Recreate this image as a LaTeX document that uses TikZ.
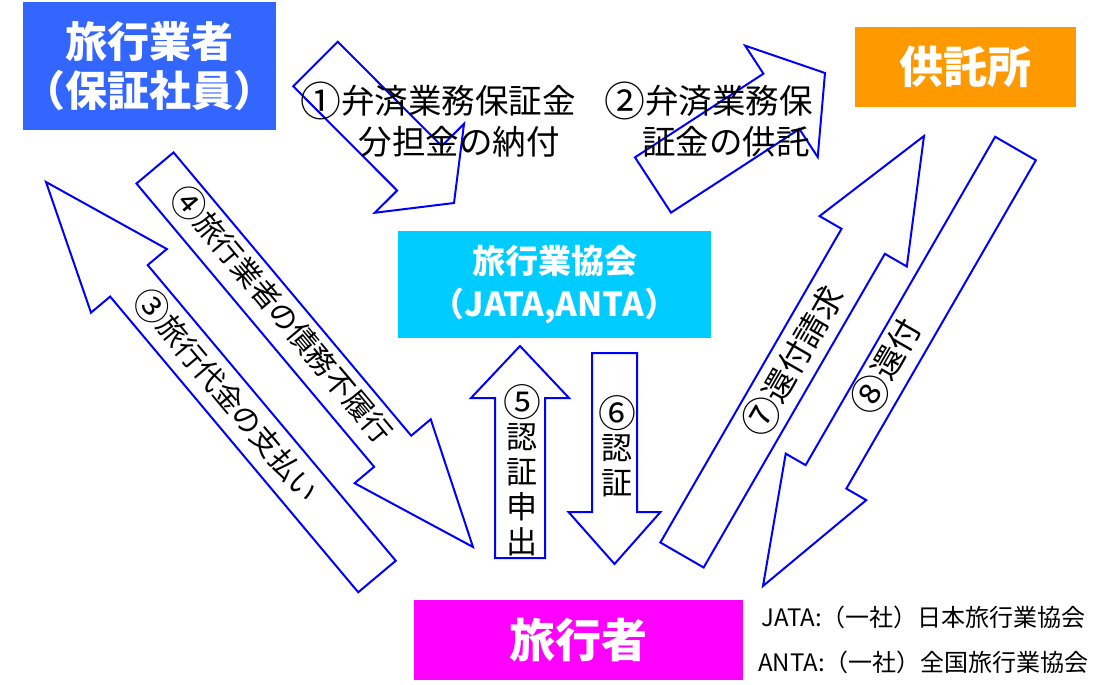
\documentclass[tikz,border=0pt]{standalone}
\usepackage{fontspec}
\setmainfont{Noto Sans CJK JP}
\usetikzlibrary{calc}
\definecolor{boxblue}{HTML}{3366FF}
\definecolor{boxorange}{HTML}{FF9900}
\definecolor{boxcyan}{HTML}{00CCFF}
\definecolor{boxmagenta}{HTML}{FF00FF}
\definecolor{arrowblue}{HTML}{0000FF}
\tikzset{
  blockarrow/.style={draw=arrowblue, line width=2pt, fill=white, line join=miter},
  colbox/.style={rectangle, inner sep=0pt, text=white, align=center},
  lbl/.style={text=black, inner sep=0pt, align=center},
}
\newcommand{\cnum}[1]{\raisebox{-0.08em}{\scalebox{1.22}{#1}}}
\newcommand{\blockarr}[5]{%
  \coordinate (#1-hb) at ($(#2)!#5!(#1)$);
  \draw[blockarrow] ($(#1)!#3!90:(#2)$) -- ($(#1-hb)!#3!90:(#2)$) -- ($(#1-hb)!#4!90:(#2)$) -- (#2) -- ($(#1-hb)!#4!-90:(#2)$) -- ($(#1-hb)!#3!-90:(#2)$) -- ($(#1)!#3!-90:(#2)$) -- cycle;
}
\begin{document}
\begin{tikzpicture}[x=1pt,y=-1pt]
\useasboundingbox (0,0) rectangle (1101,685);
% boxes
\node[colbox, fill=boxblue, minimum width=253pt, minimum height=128pt, font=\fontsize{42}{48.5}\selectfont\bfseries] (agent) at (149.5,66) {旅行業者\\（保証社員）};
\node[colbox, fill=boxorange, minimum width=221pt, minimum height=80pt, font=\fontsize{44}{48}\selectfont\bfseries] (depo) at (965.5,67) {供託所};
\node[colbox, fill=boxcyan, minimum width=313pt, minimum height=107pt, font=\fontsize{33}{43.5}\selectfont\bfseries] (assoc) at (554.5,284.5) {旅行業協会\\（JATA,ANTA）};
\node[colbox, fill=boxmagenta, minimum width=329pt, minimum height=80pt, font=\fontsize{46}{50}\selectfont\bfseries] (trav) at (578.5,640) {旅行者};
% arrow endpoints
\coordinate (a1s) at (315.5,64);   \coordinate (a1e) at (454,203);
\coordinate (a2s) at (653,185);    \coordinate (a2e) at (825,73);
\coordinate (a3s) at (377,576.5);  \coordinate (a3e) at (46,182);
\coordinate (a4s) at (155,168);    \coordinate (a4e) at (473,547);
\coordinate (a5s) at (520,558);    \coordinate (a5e) at (520,346);
\coordinate (a6s) at (614.5,353);  \coordinate (a6e) at (614.5,564);
\coordinate (a7s) at (682,555);    \coordinate (a7e) at (924,136);
\coordinate (a8s) at (1015.5,148.5); \coordinate (a8e) at (763,586);
\blockarr{a1s}{a1e}{31.5pt}{63pt}{49pt}
\blockarr{a2s}{a2e}{33pt}{66.5pt}{52pt}
\blockarr{a3s}{a3e}{24.5pt}{49.5pt}{129pt}
\blockarr{a4s}{a4e}{24.2pt}{49.7pt}{125pt}
\blockarr{a5s}{a5e}{25pt}{49pt}{52pt}
\blockarr{a6s}{a6e}{22.5pt}{46pt}{52pt}
\blockarr{a7s}{a7e}{25pt}{50.4pt}{121.6pt}
\blockarr{a8s}{a8e}{23.5pt}{46.5pt}{126pt}
% labels
\node[lbl, font=\fontsize{33.5}{40}\selectfont] (t1a) at (438,101) {\cnum{①}弁済業務保証金};
\node[lbl, font=\fontsize{33.5}{40}\selectfont] (t1b) at (459,142) {分担金の納付};
\node[lbl, font=\fontsize{33.5}{40}\selectfont] (t2a) at (708.5,101) {\cnum{②}弁済業務保};
\node[lbl, font=\fontsize{33.5}{40}\selectfont] (t2b) at (726,142) {証金の供託};
\node[lbl, font=\fontsize{29}{34}\selectfont, rotate=-50] (t3) at (227,395) {\cnum{③}旅行代金の支払い};
\node[lbl, font=\fontsize{29}{34}\selectfont, rotate=-50] (t4) at (282.5,314) {\cnum{④}旅行業者の債務不履行};
\node[lbl, font=\fontsize{31}{35}\selectfont] (t5) at (522,470) {\cnum{⑤}\\認\\証\\申\\出};
\node[lbl, font=\fontsize{31}{35}\selectfont] (t6) at (617,446) {\cnum{⑥}\\認\\証};
\node[lbl, font=\fontsize{32}{36}\selectfont, rotate=60] (t7) at (793,361) {\cnum{⑦}還付請求};
\node[lbl, font=\fontsize{32}{36}\selectfont, rotate=60] (t8) at (886,366) {\cnum{⑧}還付};
% legend
\node[lbl, anchor=west, font=\fontsize{24}{28}\selectfont] (leg1) at (761,617) {JATA:（一社）日本旅行業協会};
\node[lbl, anchor=west, font=\fontsize{24}{28}\selectfont] (leg2) at (758,662) {ANTA:（一社）全国旅行業協会};
\end{tikzpicture}
\end{document}
